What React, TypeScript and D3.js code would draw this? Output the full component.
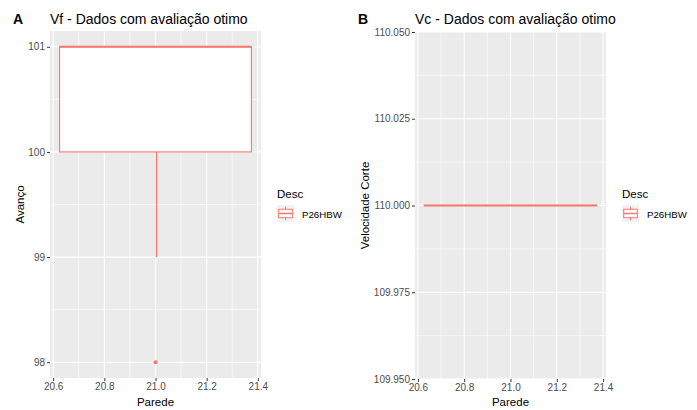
import React, { useRef, useEffect } from 'react'
import * as d3 from 'd3'

// valores por parede (todos na mesma parede, 21)
const parede = 21
const avancoValues = [98, 99, 100, 100, 100, 101, 101, 101, 101, 101, 101, 101, 101]
const velocidadeValues = [110, 110, 110, 110, 110, 110]
const xTicks = [20.6, 20.8, 21.0, 21.2, 21.4]
const avancoTicks = [98, 99, 100, 101]
const velocidadeTicks = [109.95, 109.975, 110.0, 110.025, 110.05]
const descLabel = 'P26HBW'

const W = 697
const H = 410
const RED = '#F8766D'
const FONT = '"Liberation Sans", Arial, sans-serif'

const boxStats = (vals: number[]) => {
  const s = vals.slice().sort(d3.ascending)
  const q1 = d3.quantile(s, 0.25)!
  const med = d3.quantile(s, 0.5)!
  const q3 = d3.quantile(s, 0.75)!
  const iqr = q3 - q1
  const lo = d3.min(s.filter(v => v >= q1 - 1.5 * iqr))!
  const hi = d3.max(s.filter(v => v <= q3 + 1.5 * iqr))!
  const out = s.filter(v => v < lo || v > hi)
  return { q1, med, q3, lo, hi, out }
}

const App = () => {
  const svgRef = useRef<SVGSVGElement>(null)

  useEffect(() => {
    document.body.style.margin = '0'
    const svg = d3.select(svgRef.current)
    svg.selectAll('*').remove()
    svg.append('rect').attr('width', W).attr('height', H).attr('fill', 'white')

    const drawPanel = (opts: any) => {
      const { left, right, top, bottom, yDomain, yTicks, yFmt, values, tag, tagX, title, yLabel, yLabelX, legendX } = opts
      const x = d3.scaleLinear().domain([20.5875, 21.4125]).range([left, right])
      const y = d3.scaleLinear().domain(yDomain).range([bottom, top])
      const g = svg.append('g')

      g.append('rect').attr('x', left).attr('y', top)
        .attr('width', right - left).attr('height', bottom - top).attr('fill', '#EBEBEB')

      // minor grid
      const xMinor = d3.range(xTicks.length - 1).map(i => (xTicks[i] + xTicks[i + 1]) / 2)
      const yMinor = d3.range(yTicks.length - 1).map(i => (yTicks[i] + yTicks[i + 1]) / 2)
      g.selectAll('.xmin').data(xMinor).join('line')
        .attr('x1', d => x(d)).attr('x2', d => x(d)).attr('y1', top).attr('y2', bottom)
        .attr('stroke', 'white').attr('stroke-width', 0.6)
      g.selectAll('.ymin').data(yMinor).join('line')
        .attr('y1', d => y(d)).attr('y2', d => y(d)).attr('x1', left).attr('x2', right)
        .attr('stroke', 'white').attr('stroke-width', 0.6)
      // major grid
      g.selectAll('.xmaj').data(xTicks).join('line')
        .attr('x1', d => x(d)).attr('x2', d => x(d)).attr('y1', top).attr('y2', bottom)
        .attr('stroke', 'white').attr('stroke-width', 1.1)
      g.selectAll('.ymaj').data(yTicks).join('line')
        .attr('y1', d => y(d)).attr('y2', d => y(d)).attr('x1', left).attr('x2', right)
        .attr('stroke', 'white').attr('stroke-width', 1.1)

      // boxplot
      const st = boxStats(values)
      const x0 = x(parede - 0.375), x1 = x(parede + 0.375)
      const xc = Math.round(x(parede)) + 0.5
      g.append('line').attr('x1', xc).attr('x2', xc)
        .attr('y1', y(st.hi)).attr('y2', y(st.q3)).attr('stroke', RED).attr('stroke-width', 1.4)
      g.append('line').attr('x1', xc).attr('x2', xc)
        .attr('y1', y(st.q1)).attr('y2', y(st.lo)).attr('stroke', RED).attr('stroke-width', 1.4)
      g.append('rect').attr('x', x0).attr('y', y(st.q3))
        .attr('width', x1 - x0).attr('height', y(st.q1) - y(st.q3))
        .attr('fill', 'white').attr('stroke', RED).attr('stroke-width', 1.1)
      g.append('line').attr('x1', x0).attr('x2', x1)
        .attr('y1', y(st.med)).attr('y2', y(st.med)).attr('stroke', RED).attr('stroke-width', 2.2)
      g.selectAll('.out').data(st.out).join('circle')
        .attr('cx', x(parede)).attr('cy', d => y(d)).attr('r', 2).attr('fill', RED)

      // axes
      const ax = g.append('g').attr('transform', `translate(0,${bottom})`)
        .call(d3.axisBottom(x).tickValues(xTicks).tickFormat(d3.format('.1f')).tickSize(3).tickPadding(2))
      const ay = g.append('g').attr('transform', `translate(${left},0)`)
        .call(d3.axisLeft(y).tickValues(yTicks).tickFormat(yFmt).tickSize(3).tickPadding(2))
      ;[ax, ay].forEach(a => {
        a.select('.domain').remove()
        a.selectAll('.tick line').attr('stroke', '#333333').attr('stroke-width', 1)
        a.selectAll('.tick text').attr('fill', '#4D4D4D').attr('font-size', 10).attr('font-family', FONT)
      })

      // labels
      g.append('text').attr('x', (left + right) / 2).attr('y', 406).attr('text-anchor', 'middle')
        .attr('font-size', 11.5).attr('font-family', FONT).attr('fill', 'black').text('Parede')
      g.append('text').attr('transform', `translate(${yLabelX},${(top + bottom) / 2}) rotate(-90)`)
        .attr('text-anchor', 'middle').attr('font-size', 11.5).attr('font-family', FONT)
        .attr('fill', 'black').text(yLabel)
      g.append('text').attr('x', left).attr('y', 24).attr('font-size', 14)
        .attr('font-family', FONT).attr('fill', 'black').text(title)
      g.append('text').attr('x', tagX).attr('y', 24).attr('font-size', 14).attr('font-weight', 'bold')
        .attr('font-family', FONT).attr('fill', 'black').text(tag)

      // legend
      g.append('text').attr('x', legendX).attr('y', 198).attr('font-size', 11.5)
        .attr('font-family', FONT).attr('fill', 'black').text('Desc')
      const kx = legendX, ky = 205, ks = 17
      g.append('rect').attr('x', kx).attr('y', ky).attr('width', ks).attr('height', ks).attr('fill', '#F2F2F2')
      g.append('line').attr('x1', kx + ks / 2).attr('x2', kx + ks / 2).attr('y1', ky + ks * 0.1).attr('y2', ky + ks * 0.9)
        .attr('stroke', RED).attr('stroke-width', 1)
      g.append('rect').attr('x', kx + ks * 0.1).attr('y', ky + ks * 0.25)
        .attr('width', ks * 0.8).attr('height', ks * 0.5)
        .attr('fill', 'white').attr('stroke', RED).attr('stroke-width', 1)
      g.append('line').attr('x1', kx + ks * 0.1).attr('x2', kx + ks * 0.9).attr('y1', ky + ks / 2).attr('y2', ky + ks / 2)
        .attr('stroke', RED).attr('stroke-width', 1.5)
      g.append('text').attr('x', kx + ks + 8).attr('y', 217.5).attr('font-size', 9.7)
        .attr('font-family', FONT).attr('fill', 'black').text(descLabel)
    }

    drawPanel({
      left: 50, right: 261, top: 31, bottom: 378,
      yDomain: [97.85, 101.15], yTicks: avancoTicks, yFmt: d3.format('d'),
      values: avancoValues, tag: 'A', tagX: 13, title: 'Vf - Dados com avaliação otimo',
      yLabel: 'Avanço', yLabelX: 24, legendX: 277,
    })
    drawPanel({
      left: 415, right: 606, top: 32, bottom: 379,
      yDomain: [109.95, 110.05], yTicks: velocidadeTicks, yFmt: d3.format('.3f'),
      values: velocidadeValues, tag: 'B', tagX: 358, title: 'Vc - Dados com avaliação otimo',
      yLabel: 'Velocidade Corte', yLabelX: 369, legendX: 622,
    })
  }, [])

  return (
    <div>
      <svg ref={svgRef} width={W} height={H} style={{ display: 'block' }} />
    </div>
  )
}

export default App
